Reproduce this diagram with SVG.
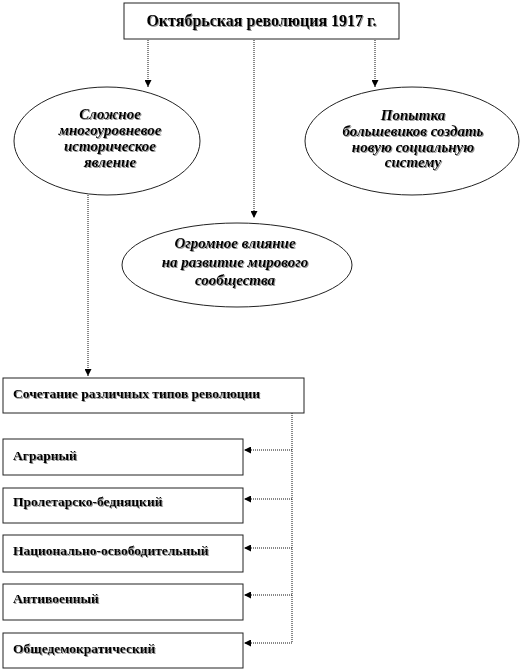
<svg xmlns="http://www.w3.org/2000/svg" width="522" height="671" viewBox="0 0 522 671">
<defs>
<style>
.box{fill:#fff;stroke:#222;stroke-width:1}
.ell{fill:#fff;stroke:#222;stroke-width:1}
.con{fill:none;stroke:#111;stroke-width:1;stroke-dasharray:1,1}
.t{font-family:"Liberation Serif","Times New Roman",serif;font-weight:bold;font-size:13.5px;fill:#000}
.tt{font-size:16px;text-anchor:middle}
.ti{font-family:"Liberation Serif","Times New Roman",serif;font-weight:bold;font-style:italic;font-size:15px;fill:#000;text-anchor:middle}
</style>
<marker id="ah" viewBox="0 0 10 10" refX="10" refY="5" markerWidth="7" markerHeight="7" orient="auto" markerUnits="userSpaceOnUse">
<path d="M0,0 L10,5 L0,10 z" fill="#000"/>
</marker>
<filter id="sh" x="-5%" y="-20%" width="110%" height="140%">
<feDropShadow dx="1" dy="1" stdDeviation="0.6" flood-color="#666" flood-opacity="0.7"/>
</filter>
</defs>
<g id="connectors">
<path class="con" d="M148,40 V87" marker-end="url(#ah)"/>
<path class="con" d="M375,40 V87" marker-end="url(#ah)"/>
<path class="con" d="M254,40 V218" marker-end="url(#ah)"/>
<path class="con" d="M88,195 V376" marker-end="url(#ah)"/>
<path class="con" d="M292,413 V643"/>
<path class="con" d="M292,450 H244" marker-end="url(#ah)"/>
<path class="con" d="M292,499 H244" marker-end="url(#ah)"/>
<path class="con" d="M292,548 H244" marker-end="url(#ah)"/>
<path class="con" d="M292,595 H244" marker-end="url(#ah)"/>
<path class="con" d="M292,643 H244" marker-end="url(#ah)"/>
</g>
<g id="n-top">
<rect class="box" x="124" y="3" width="275" height="36"/>
<text class="t tt" x="261.5" y="26" filter="url(#sh)">Октябрьская революция 1917 г.</text>
</g>
<g id="n-complex">
<ellipse class="ell" cx="107" cy="141" rx="93" ry="54"/>
<text class="ti" filter="url(#sh)"><tspan x="110" y="119">Сложное</tspan><tspan x="110" y="135">многоуровневое</tspan><tspan x="110" y="151">историческое</tspan><tspan x="110" y="167">явление</tspan></text>
</g>
<g id="n-attempt">
<ellipse class="ell" cx="412" cy="141" rx="107" ry="54"/>
<text class="ti" filter="url(#sh)"><tspan x="413" y="120">Попытка</tspan><tspan x="413" y="136">большевиков создать</tspan><tspan x="413" y="152">новую социальную</tspan><tspan x="413" y="167">систему</tspan></text>
</g>
<g id="n-influence">
<ellipse class="ell" cx="237" cy="265" rx="115" ry="42"/>
<text class="ti" filter="url(#sh)"><tspan x="235" y="248">Огромное влияние</tspan><tspan x="235" y="267">на развитие мирового</tspan><tspan x="235" y="285">сообщества</tspan></text>
</g>
<g id="n-combo">
<rect class="box" x="3" y="378" width="301" height="35"/>
<text class="t" x="13" y="398" filter="url(#sh)">Сочетание различных  типов  революции</text>
</g>
<g id="n-agr">
<rect class="box" x="3" y="439" width="240" height="36"/>
<text class="t" x="13" y="460" filter="url(#sh)">Аграрный</text>
</g>
<g id="n-prol">
<rect class="box" x="3" y="488" width="240" height="35"/>
<text class="t" x="13" y="506" filter="url(#sh)">Пролетарско-бедняцкий</text>
</g>
<g id="n-nat">
<rect class="box" x="3" y="535" width="240" height="37"/>
<text class="t" x="13" y="555" filter="url(#sh)">Национально-освободительный</text>
</g>
<g id="n-anti">
<rect class="box" x="3" y="584" width="240" height="36"/>
<text class="t" x="13" y="603" filter="url(#sh)">Антивоенный</text>
</g>
<g id="n-gen">
<rect class="box" x="3" y="633" width="240" height="35"/>
<text class="t" x="13" y="653" filter="url(#sh)">Общедемократический</text>
</g>
</svg>
